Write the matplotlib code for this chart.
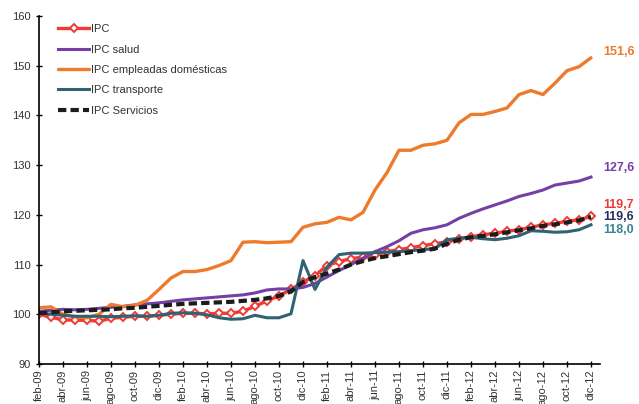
import matplotlib.pyplot as plt
import numpy as np

plt.rcParams['font.family'] = ['Liberation Sans', 'DejaVu Sans']

# monthly index values, feb-09 .. dic-12
fechas = ['feb-09', 'mar-09', 'abr-09', 'may-09', 'jun-09', 'jul-09', 'ago-09', 'sep-09',
          'oct-09', 'nov-09', 'dic-09',
          'ene-10', 'feb-10', 'mar-10', 'abr-10', 'may-10', 'jun-10', 'jul-10', 'ago-10',
          'sep-10', 'oct-10', 'nov-10', 'dic-10',
          'ene-11', 'feb-11', 'mar-11', 'abr-11', 'may-11', 'jun-11', 'jul-11', 'ago-11',
          'sep-11', 'oct-11', 'nov-11', 'dic-11',
          'ene-12', 'feb-12', 'mar-12', 'abr-12', 'may-12', 'jun-12', 'jul-12', 'ago-12',
          'sep-12', 'oct-12', 'nov-12', 'dic-12']

ipc = [100.0, 99.4, 98.9, 98.8, 98.8, 98.6, 99.2, 99.4, 99.6, 99.6, 99.8,
       100.0, 100.2, 100.2, 100.1, 100.2, 100.2, 100.6, 101.6, 102.7, 103.7, 105.0, 106.5,
       107.8, 109.8, 110.6, 111.2, 111.5, 112.0, 112.6, 113.0, 113.4, 113.8, 114.2, 114.6,
       115.2, 115.6, 116.0, 116.3, 116.7, 117.0, 117.5, 118.0, 118.3, 118.7, 119.0, 119.7]

salud = [100.6, 100.8, 101.0, 100.9, 101.0, 101.2, 101.4, 101.6, 101.9, 102.1, 102.3,
         102.6, 102.9, 103.1, 103.3, 103.5, 103.7, 103.9, 104.3, 104.9, 105.1, 105.1, 105.4,
         106.2, 107.5, 108.8, 110.0, 111.3, 112.6, 113.6, 114.8, 116.3, 117.0, 117.4, 118.0,
         119.3, 120.3, 121.2, 122.0, 122.8, 123.7, 124.3, 125.0, 126.0, 126.4, 126.8, 127.6]

domesticas = [101.3, 101.5, 100.0, 99.5, 99.3, 100.0, 102.0, 101.5, 101.8, 102.8, 105.0,
              107.3, 108.6, 108.6, 109.0, 109.8, 110.8, 114.5, 114.6, 114.4, 114.5, 114.6, 117.5,
              118.2, 118.5, 119.5, 119.0, 120.5, 125.0, 128.5, 133.0, 133.0, 134.0, 134.3, 135.0,
              138.5, 140.2, 140.2, 140.8, 141.5, 144.2, 145.0, 144.2, 146.5, 149.0, 149.8, 151.6]

transporte = [100.3, 100.0, 99.8, 99.6, 99.6, 99.6, 99.5, 99.6, 99.7, 99.6, 99.8,
              100.2, 100.3, 100.2, 99.9, 99.3, 99.0, 99.1, 99.8, 99.3, 99.3, 100.1, 110.8,
              105.0, 109.5, 112.0, 112.3, 112.3, 112.4, 112.5, 112.6, 112.8, 113.0, 113.2, 115.0,
              115.3, 115.5, 115.2, 115.0, 115.3, 115.8, 116.8, 116.7, 116.5, 116.6, 117.0, 118.0]

servicios = [100.2, 100.4, 100.6, 100.7, 100.8, 100.9, 101.0, 101.2, 101.3, 101.5, 101.7,
             101.9, 102.1, 102.2, 102.3, 102.4, 102.5, 102.7, 102.9, 103.2, 103.7, 104.6, 106.5,
             107.5, 108.2, 109.0, 110.0, 110.7, 111.3, 111.7, 112.1, 112.5, 112.8, 113.2, 114.2,
             115.0, 115.5, 115.8, 116.1, 116.5, 116.9, 117.3, 117.8, 118.1, 118.5, 118.9, 119.6]

x = np.arange(len(fechas))

c_ipc = '#f03a35'
c_salud = '#7440a6'
c_dom = '#ee7a2c'
c_trans = '#2f6273'
c_serv = '#1c1c1c'

fig = plt.figure(figsize=(6.39, 4.04), dpi=100)
ax = fig.add_axes([39 / 639, 1 - 364 / 404, 561 / 639, 348 / 404])

ax.plot(x, ipc, color=c_ipc, lw=2.4, marker='D', ms=4.5, mfc='white',
        mec=c_ipc, mew=1.4, label='IPC', solid_joinstyle='round')
ax.plot(x, salud, color=c_salud, lw=2.2, label='IPC salud', solid_joinstyle='round')
ax.plot(x, domesticas, color=c_dom, lw=2.4, label='IPC empleadas domésticas',
        solid_joinstyle='round', solid_capstyle='round')
ax.plot(x, transporte, color=c_trans, lw=2.2, label='IPC transporte', solid_joinstyle='round')
ax.plot(x, servicios, color=c_serv, lw=3, ls=(0, (2, 1)), label='IPC Servicios')

# etiquetas al final de cada serie
ends = [(domesticas, '151,6', c_dom, 4),
        (salud, '127,6', c_salud, 6.5),
        (ipc, '119,7', c_ipc, 8.3),
        (servicios, '119,6', '#2b2b63', 0),
        (transporte, '118,0', '#3a8394', -3.6)]
for serie, txt, col, dy in ends:
    ax.annotate(txt, xy=(x[-1], serie[-1]), xytext=(9, dy), textcoords='offset points',
                color=col, fontsize=9, fontweight='bold', va='center', ha='left',
                annotation_clip=False)

ax.set_xlim(0, 46.75)
ax.set_ylim(90, 160)
ax.set_yticks(np.arange(90, 161, 10))
ax.set_xticks(x[::2])
ax.set_xticklabels(fechas[::2], rotation=90)
ax.tick_params(axis='both', direction='inout', length=5, width=1, labelsize=8,
               labelcolor='#333333', color='black')
ax.tick_params(axis='x', pad=1.5)

for s in ['top', 'right']:
    ax.spines[s].set_visible(False)
for s in ['left', 'bottom']:
    ax.spines[s].set_linewidth(1.2)

leg = ax.legend(loc='upper left', bbox_to_anchor=(0.034, 0.976), frameon=False,
                fontsize=8, handlelength=2.8, handletextpad=0.15, labelspacing=0.93,
                borderaxespad=0, borderpad=0, numpoints=1)
for t in leg.get_texts():
    t.set_color('#333333')

fig.savefig('out.png', dpi=100)
